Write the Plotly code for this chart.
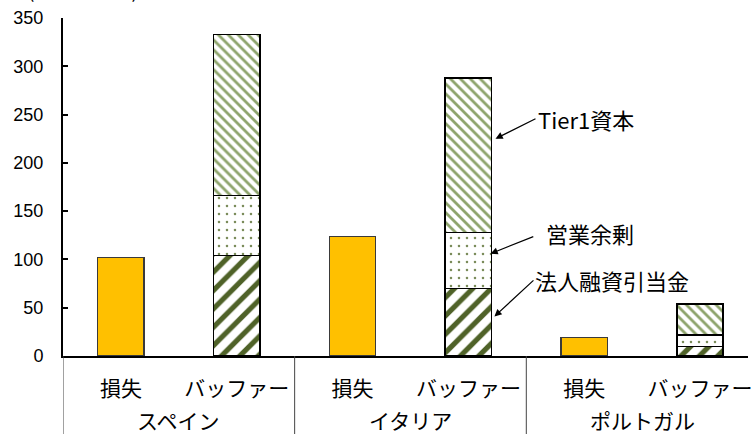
import plotly.graph_objects as go

# Bar slots: each country has a "loss" bar and a "buffer" stacked bar
slot_labels = ["損失", "バッファー", "損失", "バッファー", "損失", "バッファー"]
countries = ["スペイン", "イタリア", "ポルトガル"]

loss_x = [0, 2, 4]
buffer_x = [1, 3, 5]

# Values (10億ユーロ)
losses = [102, 124, 19]
loan_provisions = [104, 70, 10]     # 法人融資引当金
operating_surplus = [62, 58, 12]    # 営業余剰
tier1_capital = [167, 160, 32]      # Tier1資本

y_ticks = [0, 50, 100, 150, 200, 250, 300, 350]

JP_FONT = "Noto Sans CJK JP"
NUM_FONT = "Liberation Sans"

fig = go.Figure()

fig.add_trace(go.Bar(
    x=loss_x, y=losses, width=0.4, name="損失",
    marker=dict(color="#FFC000", line=dict(color="#3a3a3a", width=1.2)),
))
fig.add_trace(go.Bar(
    x=buffer_x, y=loan_provisions, width=0.4, name="法人融資引当金",
    marker=dict(
        color="white",
        line=dict(color="black", width=1.5),
        pattern=dict(shape="/", fgcolor="#4F6228", bgcolor="white",
                     fgopacity=1, size=13, solidity=0.4,
                     fillmode="overlay"),
    ),
))
fig.add_trace(go.Bar(
    x=buffer_x, y=operating_surplus, width=0.4, name="営業余剰",
    marker=dict(
        color="white",
        line=dict(color="black", width=1.5),
        pattern=dict(shape=".", fgcolor="#7A8C5A", bgcolor="white",
                     fgopacity=1, size=8, solidity=0.08,
                     fillmode="overlay"),
    ),
))
fig.add_trace(go.Bar(
    x=buffer_x, y=tier1_capital, width=0.4, name="Tier1資本",
    marker=dict(
        color="white",
        line=dict(color="black", width=1.5),
        pattern=dict(shape="\\", fgcolor="#8EA46C", bgcolor="white",
                     fgopacity=1, size=7, solidity=0.4,
                     fillmode="overlay"),
    ),
))

# Group dividers below the category axis
for xd in [-0.5, 1.5, 3.5, 5.5]:
    fig.add_shape(type="line", xref="x", yref="paper",
                  x0=xd, x1=xd, y0=0, y1=-0.24,
                  line=dict(color="#444444", width=1))

# Country labels (outer category row)
for i, c in enumerate(countries):
    fig.add_annotation(x=2 * i + 0.5, y=-0.19, xref="x", yref="paper",
                       text=c, showarrow=False, yanchor="middle",
                       font=dict(family=JP_FONT, size=21, color="black"))

# Call-outs for the buffer components (pointing at the Italy bar)
callouts = [
    ("Tier1資本", 3.234, 225, 40, -20, 0),
    ("営業余剰", 3.191, 106, 53, -21, 11),
    ("法人融資引当金", 3.225, 41, 39, -36, 0),
]
for text, hx, hy, ax, ay, stand in callouts:
    fig.add_annotation(x=hx, y=hy, xref="x", yref="y", text=text,
                       showarrow=True, ax=ax, ay=ay, xanchor="left",
                       yanchor="middle", arrowhead=2, arrowsize=1.2,
                       arrowwidth=1.2, arrowcolor="black",
                       startstandoff=stand,
                       font=dict(family=JP_FONT, size=22, color="black"))

# Unit label above the value axis (sits at the top edge of the page)
fig.add_annotation(x=(83 - 63) / 689, y=1.0, xref="paper", yref="paper",
                   text="(10億ユーロ)", showarrow=False,
                   xanchor="center", yanchor="bottom", yshift=13,
                   font=dict(family=JP_FONT, size=19, color="black"))

fig.update_layout(
    width=752, height=434,
    margin=dict(l=63, r=0, t=18, b=78),
    barmode="stack",
    showlegend=False,
    plot_bgcolor="white",
    paper_bgcolor="white",
    xaxis=dict(
        range=[-0.5, 5.414],
        tickmode="array", tickvals=list(range(6)), ticktext=slot_labels,
        ticks="", showline=True, linecolor="black", linewidth=2,
        showgrid=False, zeroline=False,
        ticklabelstandoff=13,
        ticklabeloverflow="allow",
        tickfont=dict(family=JP_FONT, size=21, color="black"),
    ),
    yaxis=dict(
        range=[0, 350], tickvals=y_ticks,
        ticks="inside", ticklen=5, tickwidth=1.5, tickcolor="black",
        showline=True, linecolor="black", linewidth=2,
        showgrid=False, zeroline=False,
        ticklabelstandoff=14,
        tickfont=dict(family=NUM_FONT, size=18, color="black"),
    ),
)

fig.write_html("out.html")
